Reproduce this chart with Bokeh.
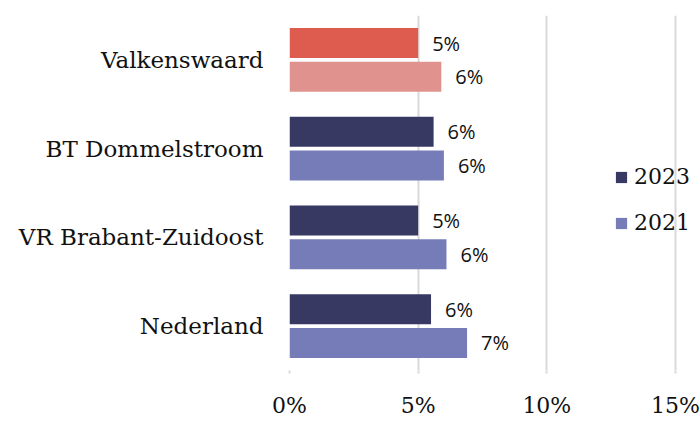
from bokeh.plotting import figure
from bokeh.models import (ColumnDataSource, FactorRange, LabelSet, Legend, LegendItem,
                          FixedTicker, CustomJSTickFormatter)
from bokeh.core.properties import value
from bokeh.transform import dodge
from bokeh.embed import file_html
from bokeh.resources import INLINE

# ---- data ----
categories = ["Valkenswaard", "BT Dommelstroom", "VR Brabant-Zuidoost", "Nederland"]
values_2023 = [5.0, 5.6, 5.0, 5.5]
values_2021 = [5.9, 6.0, 6.1, 6.9]
colors_2023 = ["#de5b50", "#373963", "#373963", "#373963"]
colors_2021 = ["#e0938e", "#767cb8", "#767cb8", "#767cb8"]
x_ticks = [0, 5, 10, 15]

serif = "DejaVu Serif"
sans = "Open Sans"

def fmt(v):
    return "%.0f%%" % v

src23 = ColumnDataSource(dict(cat=categories, val=values_2023, color=colors_2023,
                              lbl=[fmt(v) for v in values_2023]))
src21 = ColumnDataSource(dict(cat=categories, val=values_2021, color=colors_2021,
                              lbl=[fmt(v) for v in values_2021]))

# frame spans 0..15 over 386 px; extend to figure right edge (411 px)
x_end = 15 * 411 / 386

p = figure(width=700, height=420, output_backend="svg", toolbar_location=None,
           y_range=FactorRange(factors=categories[::-1], range_padding=0),
           x_range=(0, x_end))
p.min_border_left = 289
p.min_border_right = 0
p.min_border_top = 15
p.min_border_bottom = 40
p.outline_line_color = None
p.background_fill_color = "white"

r23 = p.hbar(y=dodge("cat", 0.19, range=p.y_range), right="val", left=0, height=0.34,
             fill_color="color", line_color=None, source=src23)
r21 = p.hbar(y=dodge("cat", -0.19, range=p.y_range), right="val", left=0, height=0.34,
             fill_color="color", line_color=None, source=src21)

for src, off in ((src23, 0.19), (src21, -0.19)):
    p.add_layout(LabelSet(x="val", y=dodge("cat", off, range=p.y_range), text="lbl",
                          source=src, x_offset=14, text_baseline="middle",
                          text_font=value(sans), text_font_size=value("20px"),
                          text_color="#111111"))

# axes
p.xaxis.ticker = FixedTicker(ticks=x_ticks)
p.xaxis.formatter = CustomJSTickFormatter(code="return tick + '%'")
p.xaxis.axis_line_color = None
p.xaxis.major_tick_line_color = "#d9d9d9"
p.xaxis.major_tick_line_width = 2
p.xaxis.major_tick_out = 3
p.xaxis.major_tick_in = 0
p.xaxis.minor_tick_line_color = None
p.xaxis.major_label_standoff = 19
p.xaxis.major_label_text_font = serif
p.xaxis.major_label_text_font_size = "22px"
p.xaxis.major_label_text_color = "#111111"

p.yaxis.axis_line_color = None
p.yaxis.major_tick_line_color = None
p.yaxis.minor_tick_line_color = None
p.yaxis.major_label_standoff = 20
p.yaxis.major_label_text_font = serif
p.yaxis.major_label_text_font_size = "23px"
p.yaxis.major_label_text_color = "#111111"

p.xgrid.ticker = FixedTicker(ticks=x_ticks)
p.xgrid.grid_line_color = "#d9d9d9"
p.xgrid.grid_line_width = 2
p.ygrid.grid_line_color = None

legend = Legend(items=[LegendItem(label="2023", renderers=[r23], index=1),
                       LegendItem(label="2021", renderers=[r21], index=1)],
                location=(325, 135), orientation="vertical",
                glyph_width=14, glyph_height=14, label_height=20, spacing=21,
                padding=0, margin=0, label_standoff=6,
                label_text_font=serif, label_text_font_size="22px",
                label_text_color="#111111",
                background_fill_alpha=0, border_line_color=None)
p.add_layout(legend)

open("out.html", "w").write(file_html(p, INLINE))
